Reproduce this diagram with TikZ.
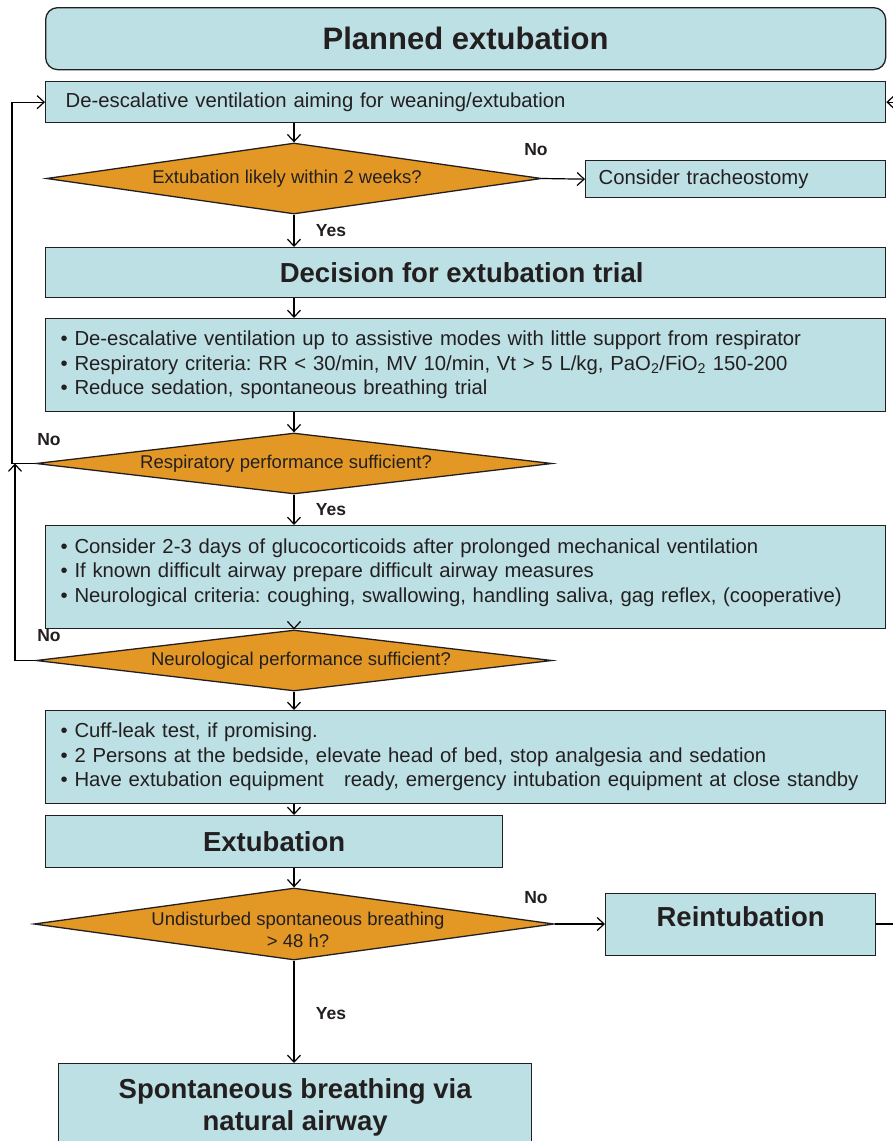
\documentclass[tikz,border=0pt]{standalone}
\usepackage{fontspec}
\setmainfont{Liberation Sans}
\usetikzlibrary{shapes.geometric,arrows.meta}
\definecolor{boxblue}{RGB}{189,224,228}
\definecolor{diaorange}{RGB}{227,152,38}
\definecolor{ink}{RGB}{35,31,32}
\frenchspacing
\newcommand{\txtfont}{\fontsize{20.3}{24.5}\selectfont}
\newcommand{\diafont}{\fontsize{18.5}{22}\selectfont}
\newcommand{\bigbold}{\bfseries\fontsize{27.5}{32}\selectfont}
\newcommand{\lblfont}{\bfseries\fontsize{17.5}{20}\selectfont}
\begin{document}
\begin{tikzpicture}[x=1pt,y=-1pt,
  box/.style={draw=ink, fill=boxblue, line width=1.3, inner sep=0, text=ink},
  lbox/.style={box, anchor=north west, align=left, font=\txtfont},
  bbox/.style={box, anchor=north west, font=\bigbold},
  dia/.style={diamond, draw=ink, fill=diaorange, line width=1.3, inner sep=0},
  diatxt/.style={font=\diafont, text=ink, align=center, inner sep=0},
  lbl/.style={font=\lblfont, text=ink, inner sep=0},
  arr/.style={draw=black, line width=1.2, -{Straight Barb[length=7,width=13,line width=1.2]}},
  ln/.style={draw=black, line width=1.2}]
\useasboundingbox[fill=white] (0,0) rectangle (893,1141);

\coordinate (spine) at (294,0);
\coordinate (lx1) at (12,0);
\coordinate (lx2) at (15,0);
\coordinate (rx) at (905,0);

% nodes
\node[box, rounded corners=12, anchor=north west, minimum width=840, minimum height=62,
      font=\bfseries\fontsize{31}{36}\selectfont] (title) at (45,7) {Planned extubation};

\node[lbox, minimum height=41, text width=800, inner xsep=20] (deesc) at (45,81)
  {De-escalative ventilation aiming for weaning/extubation};

\node[dia, minimum width=495, minimum height=71,
      label={[diatxt, xshift=-7]center:Extubation likely within 2 weeks?}] (d1) at (294,178.5) {};

\node[lbox, minimum height=37, text width=274, inner xsep=13] (trach) at (585,160)
  {Consider tracheostomy};

\node[bbox, minimum width=840, minimum height=50] (decision) at (45,247)
  {\hspace*{-8pt}Decision for extubation trial};

\node[lbox, minimum height=93, text width=810, inner xsep=15] (crit1) at (45,318)
  {• De-escalative ventilation up to assistive modes with little support from respirator\\
   • Respiratory criteria: RR < 30/min, MV 10/min, Vt > 5 L/kg, PaO\textsubscript{2}/FiO\textsubscript{2} 150-200\\
   • Reduce sedation, spontaneous breathing trial};

\node[dia, minimum width=516, minimum height=61,
      label={[diatxt, xshift=-8]center:Respiratory performance sufficient?}] (d2) at (294,463.5) {};

\node[lbox, minimum height=103, text width=810, inner xsep=15] (crit2) at (45,525)
  {• Consider 2-3 days of glucocorticoids after prolonged mechanical ventilation\\
   • If known difficult airway prepare difficult airway measures\\
   • Neurological criteria: coughing, swallowing, handling saliva, gag reflex, (cooperative)\rule[-14pt]{0pt}{14pt}};

\node[dia, minimum width=516, minimum height=61,
      label={[diatxt, xshift=7]center:Neurological performance sufficient?}] (d3) at (294,660.5) {};

\node[lbox, minimum height=93, text width=810, inner xsep=15] (prep) at (45,710)
  {• Cuff-leak test, if promising.\\
   • 2 Persons at the bedside, elevate head of bed, stop analgesia and sedation\\
   • Have extubation equipment\ \ \ ready, emergency intubation equipment at close standby};

\node[bbox, minimum width=457, minimum height=52] (extub) at (45,815) {Extubation};

\node[dia, minimum width=520, minimum height=72,
      label={[diatxt, xshift=4, yshift=-6]center:Undisturbed spontaneous breathing\\> 48 h?}] (d4) at (294,924) {};

\node[bbox, minimum width=270, minimum height=62] (reint) at (605,893)
  {\raisebox{-2pt}[0pt][0pt]{Reintubation}};

\node[bbox, align=center, minimum width=473, minimum height=88] (final) at (58,1063)
  {Spontaneous breathing via\\natural airway};

% labels
\node[lbl] (no1) at (536,150) {No};
\node[lbl] (yes1) at (331,231) {Yes};
\node[lbl] (no2) at (49,440) {No};
\node[lbl] (yes2) at (331,510) {Yes};
\node[lbl] (no3) at (49,636) {No};
\node[lbl] (no4) at (536,898) {No};
\node[lbl] (yes4) at (331,1014) {Yes};

% connectors
\draw[arr] (spine |- deesc.south) -- (d1.north);
\draw[arr] (d1.east) -- (trach.west);
\draw[arr] (d1.south) -- (spine |- decision.north);
\draw[arr] (spine |- decision.south) -- (spine |- crit1.north);
\draw[arr] (spine |- crit1.south) -- (d2.north);
\draw[arr] (d2.south) -- (spine |- crit2.north);
\draw[arr] (spine |- crit2.south) -- (d3.north);
\draw[arr] (d3.south) -- (spine |- prep.north);
\draw[arr] (spine |- prep.south) -- (spine |- extub.north);
\draw[arr] (spine |- extub.south) -- (d4.north);
\draw[arr] (d4.east) -- (d4.east -| reint.west);
\draw[arr] (d4.south) -- (spine |- final.north);

\draw[arr] (d2.west) -| (lx1 |- deesc.west) -- (deesc.west);
\draw[arr] (d3.west) -| (lx2 |- d2.west);
\draw[arr] (reint.east |- d4.east) -| (rx |- deesc.east) -- (deesc.east);
\end{tikzpicture}
\end{document}
